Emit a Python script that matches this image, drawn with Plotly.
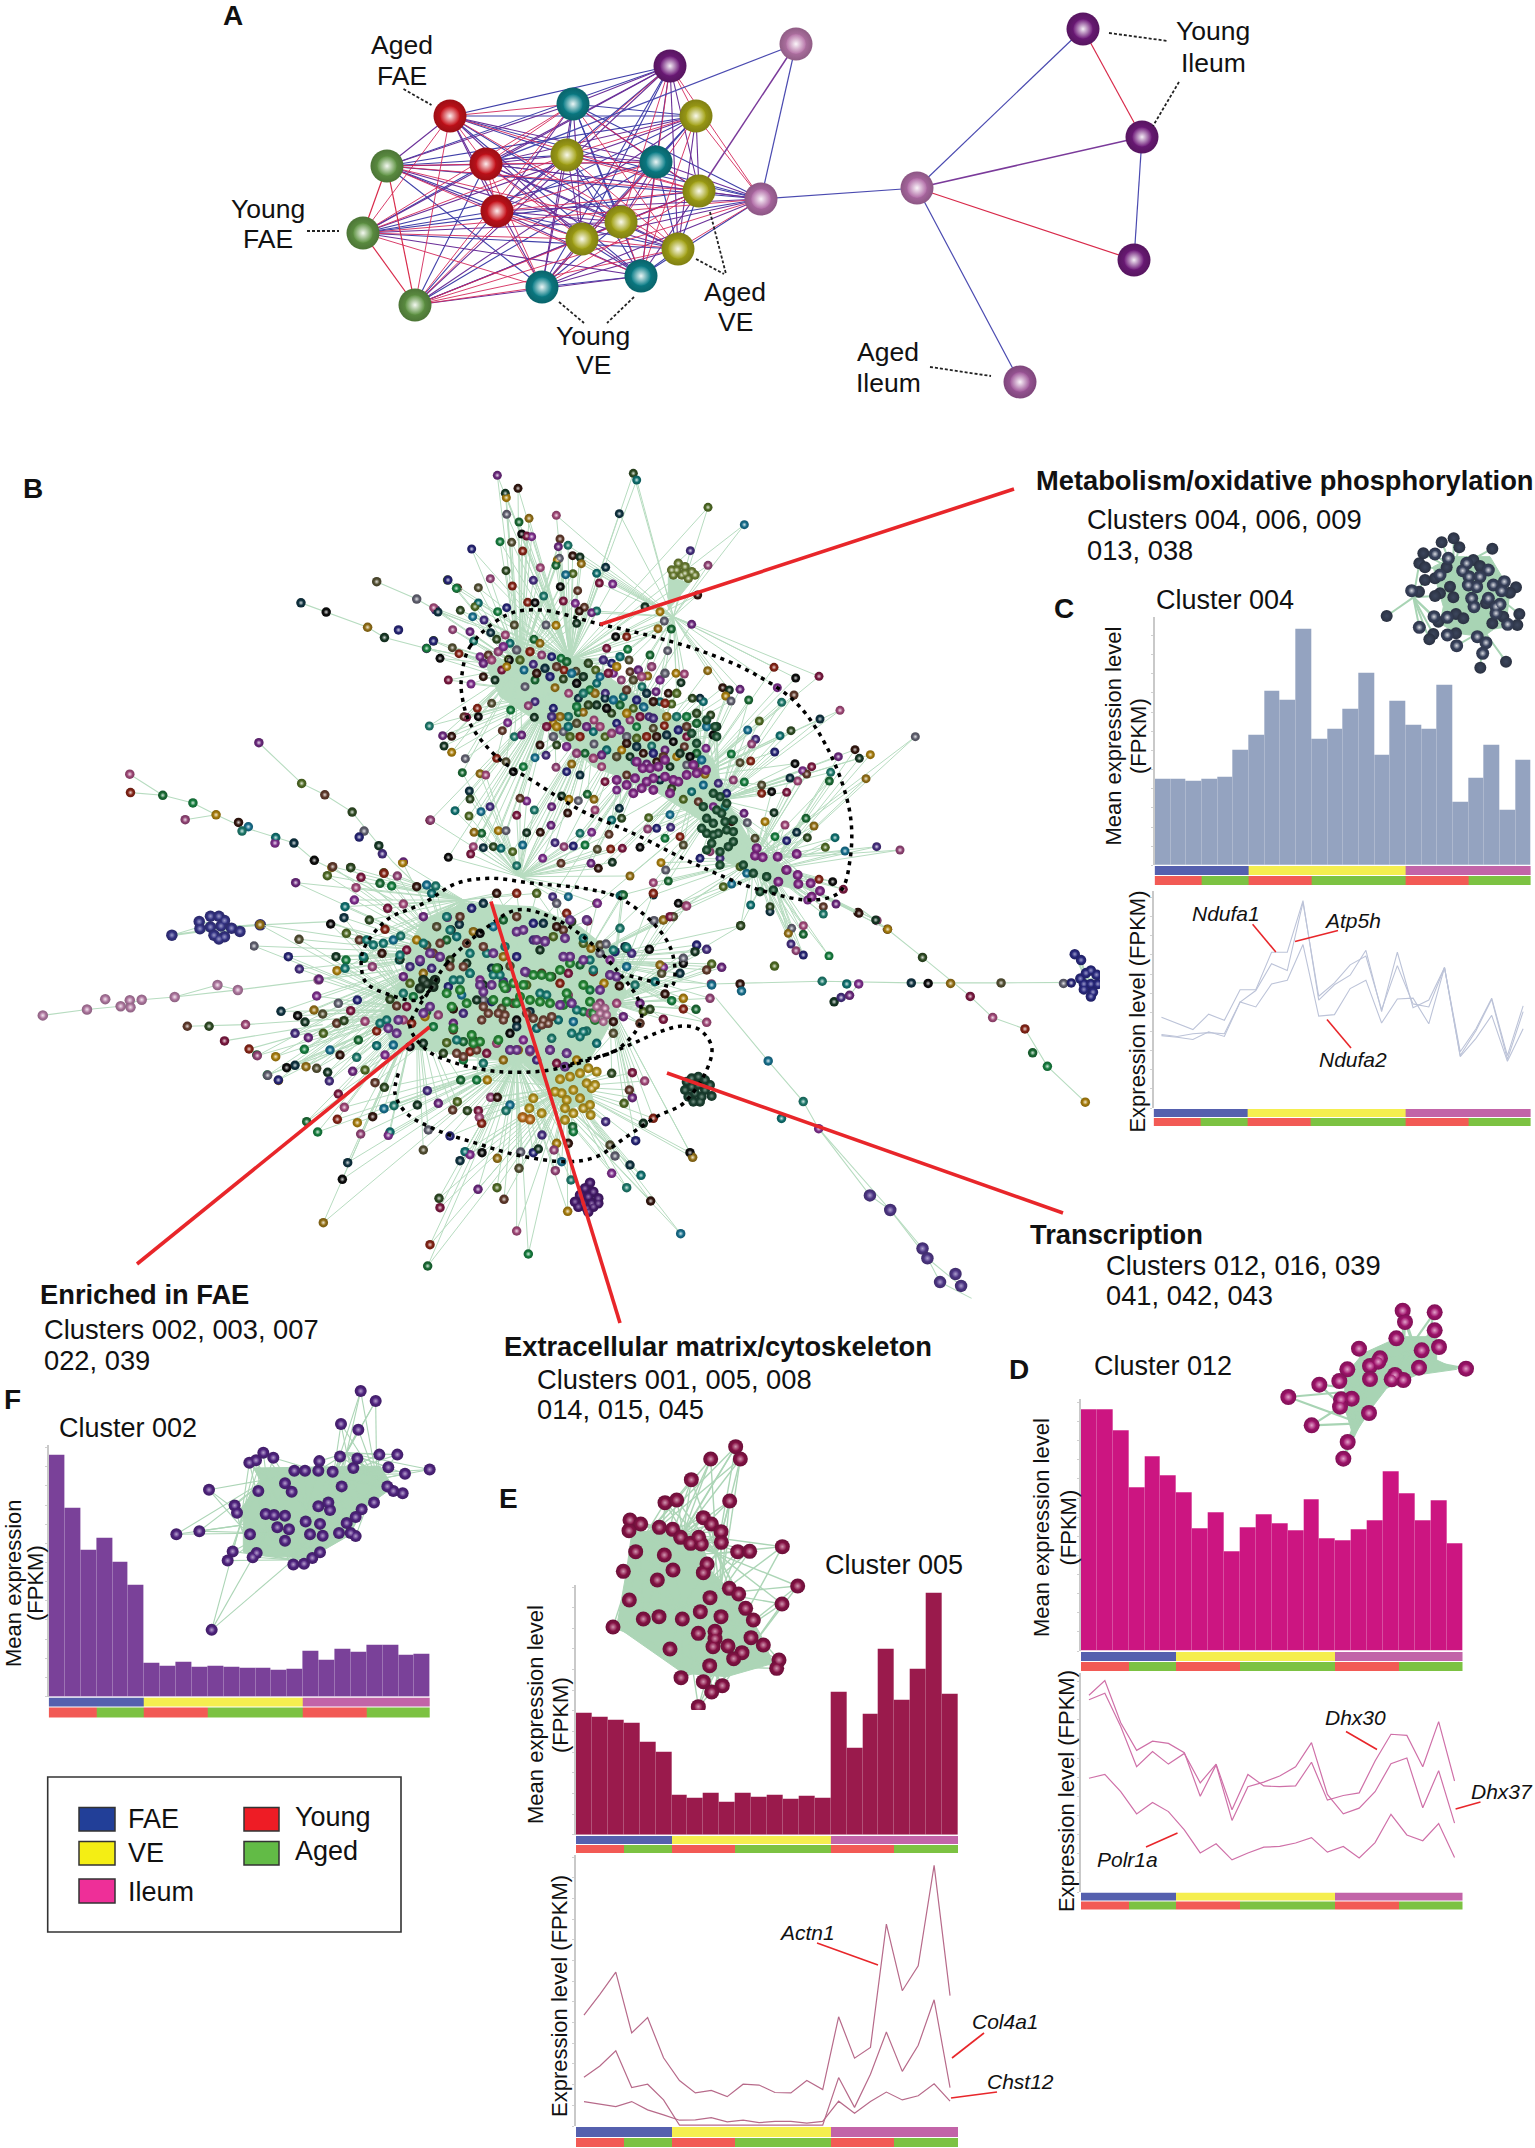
import plotly.graph_objects as go

W, H = 1535, 2148
SAMPLES = list(range(1, 25))
TISSUE = [0]*6 + [1]*10 + [2]*8
AGE = [3]*3 + [4]*3 + [3]*4 + [4]*6 + [3]*4 + [4]*4

BAR_C = [225,225,220,226,231,302,340,454,432,618,331,357,408,502,288,429,367,355,470,166,228,314,145,276]
BAR_D = [630,630,576,427,509,459,414,321,363,261,323,357,332,316,396,293,290,318,341,470,412,342,393,280]
BAR_E = [295,285,278,270,225,200,97,90,102,79,102,92,95,87,93,90,345,209,292,449,327,402,585,342]
BAR_F = [630,492,384,415,351,290,87,79,89,76,79,77,75,74,69,71,118,96,123,117,134,134,109,111]

ATP5H = [237,220,205,245,229,309,309,407,407,542,282,322,347,412,252,407,262,282,367,147,207,287,137,267]
NDUFA1 = [192,187,194,197,194,277,307,377,359,537,292,327,374,397,257,372,272,264,367,137,202,284,127,252]
NDUFA2 = [189,185,179,199,187,277,264,324,334,427,240,244,312,334,222,285,287,220,367,134,182,242,122,207]
DHX30 = [502,519,432,327,367,334,362,285,334,215,307,277,275,277,339,240,252,259,342,412,409,327,445,290]
DHX37 = [514,552,442,370,394,388,364,250,332,187,275,287,303,327,390,255,204,219,262,335,350,220,317,180]
POLR1A = [297,307,262,204,234,210,162,102,126,84,102,117,119,128,142,104,119,89,129,203,149,134,179,90]
ACTN1 = [268,318,372,225,262,165,110,80,86,71,101,99,81,80,110,88,264,164,190,488,327,387,630,315]
COL4A1 = [118,145,182,93,101,63,2,2,2,2,2,2,2,2,2,2,117,45,125,227,132,195,305,93]
CHST12 = [59,53,47,59,39,27,14,15,20,10,14,8,11,11,7,11,60,31,59,82,63,73,102,60]

# Panel A network
A_NODES = {
 'p1':(670,66,'#7d1f8a'),'q1':(796,44,'#cf86bf'),'r1':(450,116,'#e0141e'),'t1':(573,104,'#0e8f9a'),
 'y1':(696,116,'#b8b81a'),'g1':(387,166,'#6da84e'),'r2':(486,164,'#e0141e'),'y2':(567,155,'#b8b81a'),
 't2':(656,162,'#0e8f9a'),'y3':(699,191,'#b8b81a'),'q2':(761,199,'#c87bbd'),'r3':(497,211,'#e0141e'),
 'g2':(363,233,'#6da84e'),'y4':(621,222,'#b8b81a'),'y5':(582,239,'#b8b81a'),'y6':(678,249,'#b8b81a'),
 't3':(641,276,'#0e8f9a'),'t4':(542,287,'#0e8f9a'),'g3':(415,305,'#6da84e'),'q3':(917,188,'#c87bbd'),
 'q4':(1020,382,'#b565b0'),'p2':(1083,29,'#7d1f8a'),'p3':(1142,137,'#7d1f8a'),'p4':(1134,260,'#7d1f8a'),
}
A_CORE = ['p1','r1','t1','y1','g1','r2','y2','t2','y3','q2','r3','g2','y4','y5','y6','t3','t4','g3']
A_BLUE_EXTRA = [('q1','q2'),('q1','r2'),('q2','q3'),('q3','p2'),('q3','q4'),('p3','p4')]
A_RED_EXTRA = [('q3','p4'),('p2','p3'),('g1','g2'),('g2','g3'),('g1','g3')]
A_PURPLE_EXTRA = [('q3','p3'),('q1','y3')]

# Panel B network, lower-resolution outer frame
Z6_NODES = [(369,540),(430,615),(463,636),(502,668),(613,683),(185,598),(186,632),(232,637),(275,651),(308,673),(264,682),(340,687),(354,695),(345,703),(393,715),(392,725),(419,725),(448,757),(473,770),(500,770),(519,703),(512,714),(540,730),(545,745),(575,760),(547,780),
(267,1063),(298,1063),(320,1090),(350,1060),(355,1105),(366,1116),(381,1153),(397,1163),
(1014,985),(1055,985),(1057,998),(1172,980),(1207,985),(1224,985),(1299,983),(1323,984),(1355,984),(1427,983),(1516,984),(1527,983),(1189,1018),(1199,1010),(1211,1006),(1104,952),
(1265,884),(1315,936),(1383,1008),(1415,1047),(1461,1068),(1472,1112),(1493,1137),(1547,1203),(1250,868),(1223,853),
(1095,1127),(1145,1202),(1114,1233),(1167,1252),(429,282),(465,299),(524,327),(537,243),(594,275),(568,332),(548,346),(621,295),(608,366),(638,240),(652,255),(618,352)]
Z6_PURPLE = [(1240,1375),(1269,1402),(1315,1473),(1322,1491),(1340,1535),(1362,1520),(1370,1542)]
Z6_BLUE_L = [(245,895),(284,870),(285,883),(300,860),(312,860),(320,868),(300,880),(315,878),(330,882),(305,895),(320,898),(342,888),(371,876),(312,902)]
Z6_BLUE_R = [(1540,975),(1548,965),(1555,960),(1563,968),(1545,985),(1555,985),(1565,985),(1545,995),(1558,1000),(1555,1008),(1532,930),(1541,941)]
Z6_PINK = [(61,1043),(124,1032),(150,1013),(172,1026),(185,1015),(186,1028),(202,1014),(249,1009),(310,987),(339,996),(454,977)]
Z6_CHAINS = [
 [(61,1043),(124,1032),(172,1026),(202,1014),(249,1009),(339,996),(454,977),(560,960)],
 [(249,1009),(310,987),(339,996)],
 [(900,975),(1014,985),(1172,980),(1299,983),(1427,983),(1540,982)],
 [(1230,850),(1265,884),(1315,936),(1383,1008),(1415,1047),(1461,1068),(1493,1137),(1547,1203)],
 [(1020,1010),(1095,1127),(1145,1202),(1167,1252),(1240,1375),(1269,1402),(1315,1473),(1340,1535),(1385,1565)],
 [(1167,1252),(1269,1402),(1322,1491),(1370,1542)],
 [(429,282),(465,299),(524,327),(548,346),(608,366),(660,380)],
 [(537,243),(594,275),(621,295),(668,320)],
 [(369,540),(430,615),(463,636),(502,668),(560,760),(600,810)],
 [(185,598),(232,637),(275,651),(308,673),(345,695),(393,715),(419,725),(448,757),(500,790),(560,830)],
 [(186,632),(232,637)],[(264,682),(308,673)],
 [(245,895),(284,880),(371,876),(470,870),(530,900)],
 [(1532,930),(1541,941),(1550,980)],
 [(267,1063),(350,1060),(460,1050)],[(320,1090),(460,1060)],[(355,1105),(480,1060)],[(381,1153),(520,1090)],
 [(1189,1018),(1211,1006),(1224,985)],
]
# Upper blob
Z10_NODES = [(232,46),(294,85),(256,100),(259,113),(260,163),(297,186),(327,175),(409,166),(598,161),(640,40),(650,60),(864,142),(973,194),(811,272),(864,316),(155,267),(240,245),(275,247),(308,273),(305,222),(320,228),(335,230),(420,237),(444,256),(415,260),(458,287),(480,291),(412,300),(418,295),(408,316),(484,311),(361,323),(557,322),(258,332),(530,340),(459,341),(437,344),(340,361),(211,356),(84,360),(109,385),(175,383),(277,378),(421,380),(538,369),(578,372),(473,392),(371,408),(815,493),(833,405),(675,440),(720,455),(733,483),(754,507),(714,506),
(41,443),(54,456),(121,451),(175,429),(165,440),(158,470),(192,480),(98,509),(40,543),(20,565),(97,563),(117,581),(60,595),(85,660),(153,672),(132,770),(28,798),(68,827),(95,829),(72,858),(95,877),(136,896),(127,938),(180,941),(197,945),(148,993),(150,1017),(105,1052),(147,1068),(183,1055),(210,1040),(32,1080),
(260,443),(233,455),(283,495),(323,427),(345,428),(430,423),(466,430),(493,442),(530,453),(515,458),(478,453),(470,490),(408,496),(378,495),(342,538),(360,550),(256,525),(212,518),(230,538),(270,550),(265,598),(312,630),(340,613),(365,585),(395,590),(423,595),(468,634),(432,630),(268,600),(245,630),(180,590),(205,585),(161,543),(150,515),(190,650),(225,660),(260,620),(315,680),(345,660),(405,683),(446,700),(475,715),(430,657),(530,670),(527,630),(540,650),(556,700),(604,660),(575,610),(623,568),(627,600),(620,530),(587,530),(560,565),(580,640),(630,635),(666,680),(708,695),(745,700),(783,668),(768,640),(743,572),(690,585),(683,648),(793,642),(840,715),(817,715),(720,725),(755,732),(670,740),
(345,725),(325,737),(400,745),(272,750),(215,730),(172,745),(175,770),(140,772),(263,788),(247,812),(283,830),(305,825),(360,855),(343,772),(400,790),(430,815),(475,758),(490,757),(522,780),(555,715),(575,760),(610,710),(640,745),(672,742),(687,770),(630,780),(590,790),(650,800),(700,805),(733,797),(760,845),(800,830),(858,865),(793,860),(695,858),(735,870),(670,880),(630,890),(605,870),(522,852),(495,880),(455,912),(545,920),(480,945),(410,855),(520,815),(555,830),(345,893),(378,886),(408,922),(440,935),(310,920),(258,905),(230,895),(280,935),
(555,965),(590,990),(620,945),(645,905),(680,912),(710,905),(750,920),(770,890),(800,915),(825,915),(855,943),(835,935),(720,960),(755,985),(815,995),(790,1018),(850,975),(895,970),(940,960),(920,1000),(973,966),(1025,975),(1025,1000),(1055,995),(1100,997),(880,1040),(835,1025),(915,1040),(972,1060),(935,1085),(1062,1058),(1035,1085),(982,1088),(1158,1075),(1182,1098),(1095,1095),(1130,1117),(1162,1133),(1245,1133),(1216,1162),(1275,1173),(1370,1160),(1440,1170),(1100,1142),(1065,1130),(1005,1135),
(1062,622),(1127,654),(1197,649),(1072,683),(1122,705),(1085,727),(960,688),(908,683),(928,690),(917,708),(933,723),(986,720),(863,632),(1260,751),(1200,777),(1113,812),(1080,827),(1018,783),(983,810),(1007,838),(995,852),(1064,876),(934,882),(960,908),(992,903),(1125,911),(1175,920),(1148,932),(1160,942),(1232,937),(1255,890),(1305,869),(1318,895),(1351,884),(1486,830),(1228,963),(1338,956),(1133,963),(1110,954),(872,765),(850,725),
(960,1220),(980,1240),(900,1195),(870,1175),(840,1195),(1040,1250),(1097,1230),(1197,1258),(1238,1265),(1270,1288),(1163,1320),(1210,1340),(1210,1362),(1248,1332),(1317,1360),(1367,1380),(1403,1408),(1115,1405),(1150,1423),(1105,1420),(1150,1397),(1050,1355),(1050,1340),(992,1335),(910,1280),(935,1272),(1113,1452),(1128,1472),(1150,1485),(1227,1488),(962,1397),(797,1338),(775,1330),
(290,1066),(320,1023),(300,1015),(343,1050),(395,1040),(443,1059),(425,1008),(447,1018),(475,1022),(502,1003),(522,1018),(525,1050),(598,1045),(605,1075),(575,1080),(686,1073),(750,1064),(752,1102),(683,1107),(710,1105),(735,1135),(790,1155),(780,1130),(660,1162),(607,1165),(515,1117),(567,1123),(480,1120),(393,1096),(361,1117),(320,1118),(235,1112),(258,1112),(185,1120),(162,1117),(160,1160),(190,1163),(220,1160),(243,1165),(278,1175),(308,1155),(405,1148),(432,1160),(460,1158),(495,1155),(532,1168),(572,1167),(85,1192),(152,1182),(368,1195),(423,1210),(290,1217),(513,1210),(535,1225),(577,1207),(723,1208),(737,1230),(745,1263),(630,1248),(700,1268),(700,1305),(730,1380),(600,1307),(530,1330),(445,1310),(398,1310)]
Z10_CORE = [(190,610),(215,600),(235,575),(250,560),(290,570),(300,600),(330,575),(350,640),(375,625),(390,650),(410,620),(440,605),(455,640),(470,670),(490,650),(505,610),(510,690),(490,700),(525,700),(550,600),(565,640),(590,620),(600,590),(640,660),(655,630),(665,650),(695,620),(720,660),(735,640),(770,700),(735,730),(700,725),(680,700),(650,720),(620,690),(600,735),(580,720),(560,745),(530,735),(505,735),(470,740),(445,770),(420,770),(395,770),(380,800),(410,800),(445,800),(470,790),(500,800),(540,800),(575,820),(600,810),(620,830),(650,835),(680,830),(710,830),(740,825),(775,810),(800,800),(830,790),(860,800),(880,825),(890,800),(830,760),(800,770),(770,770),(740,770),(700,775),(660,770),(620,760),(560,870),(590,890),(545,885),(520,895),(470,880),(440,860),(400,830),(450,830),(480,830),(620,850),(650,860),(700,880),(730,890),(830,880),(845,900),(810,890),(780,880)]
Z10_MAGENTA = [(650,905),(668,925),(690,925),(715,920),(735,900),(700,955),(680,965),(645,955),(620,975),(590,960),(640,1000),(665,985),(700,990),(735,950),(760,960),(750,1000),(775,965),(820,915),(830,940),(858,930),(800,945),(1005,1187),(1028,1192),(1073,1190),(1130,1182),(1100,1230),(1075,1265),(1133,1245),(1135,1272),(1172,1270),(1200,1293),(1175,1310),(1010,1165)]
Z10_DKGREEN = [(880,1000),(900,1010),(920,1030),(850,1040),(890,1050),(860,1075),(880,1090),(915,1085),(920,1110),(940,1115),(895,1120),(860,1120),(875,1150),(900,1175),(925,1160),(940,1145),(860,1170),(900,1215),(970,1215),(1000,1240),(1040,1250),(1060,1290),(1020,1295),(940,1080),(880,1125),(845,1105),(905,1060),(815,820),(860,780),(885,800),(890,830),(830,850)]
Z10_OLIVE = [(755,330),(775,310),(795,320),(815,335),(760,345),(785,345),(805,355),(825,345),(770,330),(795,340)]
Z10_HUBS = [(300,620),(530,760),(700,850),(900,1020),(1000,1200),(450,600),(300,1250),(760,470),(400,700),(620,800),(830,950),(1050,1230)]
Z10_HAZE = [(200,620),(300,590),(470,590),(610,680),(760,770),(880,900),(925,1030),(990,1140),(1110,1240),(1140,1290),(1050,1270),(890,1190),(840,1080),(700,990),(520,920),(390,810),(240,710),(200,620)]
Z10_OLIVE_HAZE = [(745,350),(810,370),(745,450),(745,350)]
# Lower blob
Z11_NODES = [(137,68),(232,47),(248,20),(302,23),(333,52),(318,83),(402,40),(390,70),(425,78),(458,8),(442,48),(500,80),(530,75),(557,78),(285,140),(313,120),(282,173),(242,192),(30,194),(147,238),(12,258),(115,290),(258,290),(148,327),(207,358),(289,220),(328,240),(358,180),(413,145),(460,132),(405,208),(342,295),(288,300),(261,332),(367,320),(396,280),(430,240),(452,228),(448,300),(200,408),(93,454),(143,467),(192,450),(218,462),(265,430),(322,420),(165,486),(135,520),(175,533),(220,520),(260,490),(282,482),(302,452),(345,484),(380,513),(325,540),(163,568),(77,590),(22,587),(270,585),(240,570),(320,592),(380,557),(405,585),(135,616),(110,623),(168,620),(200,625),(53,646),(85,660),(233,637),(238,663),(308,634),(345,630),(375,668),(403,682),(265,702),(283,742),(262,778),(170,785),(203,816),(322,788),(332,822),(368,770),(402,746),(432,737),(420,816),(415,826),(293,908),(277,958),(220,1088),
(520,870),(535,810),(600,828),(502,735),(532,692),(565,730),(622,725),(608,750),(652,752),(685,752),(688,772),(695,790),(632,660),(680,660),(712,660),(722,712),(742,712),(780,735),(768,752),(645,875),(660,884),(630,902),(696,878),(742,895),(807,925),(812,876),(850,878),(865,867),(876,825),(684,988),(741,983),(762,1018),(567,1015),(570,1043),(800,1113),(540,1154),(533,1218),(835,1182),(953,1054),(916,932),(1202,1023),(1292,1121),(1130,983),(1173,946),(1085,940),(1140,915),(1320,878),(1328,892),(1080,855),(1095,888),(1157,842),(1180,790),(1067,785),(1147,713),(1122,730),(1138,690),(1085,640),(1147,638),(1184,663),(1210,775),(968,800),(970,815),(920,850),(912,870),(955,850),(935,905),(963,960),
(545,100),(592,172),(628,193),(603,210),(670,215),(530,256),(570,292),(510,305),(450,298),(545,325),(460,350),(480,370),(440,438),(420,418),(470,440),(460,480),(485,490),(530,455),(550,500),(525,470),(565,465),(610,447),(635,405),(630,360),(660,340),(690,360),(725,325),(745,325),(760,290),(780,318),(830,338),(800,290),(870,270),(850,240),(885,242),(910,230),(940,210),(965,185),(1013,183),(960,290),(1030,335),(990,315),(1020,390),(1062,370),(1080,345),(1108,378),(1130,320),(1110,205),(1115,105),(1042,130),(1125,260),(1198,268),(1240,180),(1270,170),(1212,182),
(595,380),(700,375),(760,365),(770,385),(830,375),(875,340),(905,350),(955,340),(955,405),(930,370),(965,430),(1000,455),(1030,470),(1020,460),(1090,485),(970,485),(1010,513),(925,480),(885,490),(840,455),(800,480),(760,465),(755,445),(700,420),(725,425),(680,420),(640,460),(610,490),(590,548),(610,510),(670,540),(710,580),(740,550),(660,575),(640,545),(780,570),(805,570),(840,575),(900,570),(950,580),(905,535),(860,505),(820,540),(800,500),(780,520),
(1023,265),(1050,255),(1068,252),(1095,275),(1130,265),(1145,280),(1170,430),(1180,455),(1170,490),(1200,448),(1240,478),(1370,487),(1300,447),(1338,448),(1265,422),(1300,415),(1380,415),(1245,402),(1385,375),(1155,375),(1215,365),(1240,322),(1290,340),(1300,310),(1230,315),(1235,340),(1300,295),(1340,255),(1335,275),(1370,268),(1415,322),(1385,312),(1370,330),(1472,197),(1260,170),(1310,138),(1210,100),(1120,105)]
Z11_GREEN = [(760,375),(790,370),(820,375),(850,345),(875,345),(900,350),(950,400),(955,420),(940,435),(765,385),(730,420),(770,425),(810,410),(840,420),(870,425),(900,430),(930,330),(960,310),(1030,460),(1035,480),(690,545),(670,550),(610,505),(590,400),(630,390),(605,440),(650,430),(740,325),(800,430),(1000,375),(1020,425),(745,540),(665,525)]
Z11_BROWN = [(700,440),(715,460),(695,480),(745,460),(765,465),(760,480),(830,460),(850,475),(880,480),(895,490),(875,495),(905,470),(680,570),(620,580),(640,590),(790,430),(640,320),(600,320),(570,250),(550,280),(650,250),(700,260)]
Z11_MAUVE = [(730,280),(800,215),(820,210),(860,240),(885,245),(945,235),(960,290),(1010,180),(960,180),(825,335),(940,290),(1000,300),(1080,345),(1100,350),(690,375),(700,395),(725,375),(540,280),(570,290),(510,300),(520,460),(540,440),(445,480),(415,505),(440,520),(1050,390),(930,435),(965,430),(840,570),(800,570),(780,570),(900,570),(950,580),(945,620)]
Z11_TEAL = [(590,170),(600,210),(660,280),(710,280),(765,260),(870,400),(890,405),(730,345),(750,345),(660,340),(610,360),(1030,330),(1130,262),(1090,270),(520,250),(450,285),(400,250),(350,240),(370,255),(340,290),(285,325),(410,480),(390,490),(1000,235),(1020,300),(620,540),(980,450),(990,530),(965,520),(1000,515)]
Z11_MIX = [(520,170),(560,200),(620,230),(500,240),(470,270),(480,320),(520,340),(460,400),(490,410),(600,300),(650,310),(690,220),(730,200),(760,180),(800,170),(850,190),(880,190),(920,200),(950,160),(1000,250),(1050,280),(1080,300),(1050,430),(1100,430),(1120,470),(1090,520),(1040,550),(980,600),(920,610),(860,600),(760,600),(700,610),(640,600),(580,580),(520,550),(480,560),(430,555),(590,240),(630,170),(665,145),(700,130),(740,100),(800,100),(860,100),(920,130)]
Z11_GOLD = [(930,658),(960,650),(990,640),(1015,625),(1010,670),(970,690),(935,700),(915,695),(950,720),(990,715),(1000,745),(970,760),(945,745),(945,780),(1025,685),(1035,675),(1040,635),(850,715),(838,745),(875,760),(1020,735),(1022,765)]
Z11_ORANGE = [(818,772),(840,778)]
Z11_DKGREEN = [(1310,665),(1325,655),(1345,650),(1365,660),(1380,675),(1305,690),(1325,680),(1345,675),(1365,690),(1385,708),(1315,710),(1335,700),(1355,710),(1330,725),(1350,725)]
Z11_PURPLE = [(1020,968),(1005,985),(1030,995),(990,1005),(1015,1010),(1045,1015),(975,1025),(1000,1030),(1025,1030),(1045,1030),(985,1040),(1010,1045),(1030,1040),(1015,1055)]
Z11_PINK = [(1040,440),(1065,445),(1050,460),(1070,465),(1035,475),(1060,485)]
Z11_DARK = [(520,360),(550,380),(510,385),(530,370),(555,360)]
Z11_HUBS = [(640,120),(700,400),(950,400),(500,450),(1000,300),(800,600),(950,680),(820,250),(600,280),(1080,430)]
Z11_HAZE = [(520,180),(640,130),(850,140),(990,200),(1090,280),(1130,400),(1060,530),(1000,630),(1030,720),(950,750),(820,610),(600,580),(430,560),(390,470),(460,350),(480,250),(520,180)]

# Cluster insets
C_LIT = [(225,132),(265,145),(320,160),(308,182),(385,180),(240,195),(327,200),(360,200),(325,225),(350,230),(400,225),(433,215),(425,242),(155,242),(335,265),(385,265),(408,290),(420,283),(342,290),(408,310),(222,320),(262,322),(443,343),(178,352),(262,375),(352,380),(290,407),(378,398),(368,430)]
C_DARK = [(245,97),(281,85),(298,112),(397,116),(190,130),(178,160),(195,172),(260,172),(340,150),(360,168),(195,210),(225,205),(270,230),(240,250),(280,262),(225,258),(177,245),(468,232),(450,248),(378,280),(80,318),(288,312),(310,325),(235,335),(478,312),(430,320),(472,345),(397,340),(220,372),(208,388),(288,370),(438,455),(361,473)]
C_HUBS = [(330,270),(160,262),(370,360),(280,180),(400,250)]
C_HAZE = [(220,170),(280,140),(390,140),(450,240),(440,330),(370,380),(290,370),(240,340),(250,290),(230,220),(220,170)]
D_NET = [(428,62),(435,96),(524,67),(524,121),(537,171),(409,145),(297,176),(485,181),(618,236),(477,233),(360,205),(330,228),(262,238),(238,273),(178,284),(85,321),(330,267),(405,255),(430,270),(395,268),(275,326),(243,328),(240,350),(155,406),(327,369),(263,456),(250,506),(355,215)]
D_HUBS = [(430,200),(320,300),(300,400),(480,220),(370,250)]
D_HAZE = [(310,190),(420,140),(530,140),(530,210),(590,238),(470,255),(380,295),(330,360),(280,440),(250,340),(260,250),(310,190)]
E_NET = [(527,80),(541,117),(452,117),(394,179),(509,243),(315,248),(350,240),(430,293),(454,312),(483,335),(210,300),(242,312),(207,332),(484,367),(298,322),(338,328),(362,352),(392,370),(424,372),(416,352),(533,395),(569,394),(667,380),(713,498),(666,552),(227,395),(190,454),(313,405),(339,450),(292,480),(441,432),(430,458),(508,505),(536,522),(450,533),(557,565),(580,600),(208,540),(159,621),(367,597),(421,575),(483,590),(465,634),(465,656),(504,678),(459,680),(415,640),(573,653),(610,675),(330,687),(546,698),(521,716),(449,737),(657,720),(650,745),(363,773),(430,785),(487,797),(455,816),(415,860),(250,597),(297,590)]
E_HUBS = [(370,340),(470,400),(520,650),(370,560),(300,450),(450,740),(240,370),(560,700),(480,520)]
E_HAZE = [(215,340),(330,325),(430,370),(440,440),(540,540),(600,640),(640,730),(500,770),(370,760),(170,620),(200,450),(215,340)]
F_NET = [(1082,29),(1127,55),(1023,115),(1075,130),(1138,195),(1192,195),(1289,234),(1215,245),(1208,296),(1180,290),(1162,278),(1165,228),(748,216),(768,210),(790,190),(820,203),(627,287),(598,395),(529,403),(635,653),(704,328),(711,347),(797,350),(822,353),(855,355),(855,270),(883,237),(915,237),(955,237),(998,240),(1060,230),(1020,200),(1072,205),(958,212),(1025,278),(775,290),(875,292),(1085,338),(1067,358),(1040,374),(990,340),(955,330),(985,320),(832,385),(867,390),(917,370),(960,376),(750,403),(855,420),(930,403),(968,407),(1017,400),(1052,400),(1067,408),(698,448),(683,472),(770,452),(758,463),(880,482),(912,480),(937,465),(960,450),(1122,320)]
F_HUBS = [(920,340),(1000,250),(800,400),(800,260),(1130,260),(720,380),(880,470),(1040,190)]
F_HAZE = [(760,230),(1140,225),(1180,280),(1100,330),(1040,410),(930,465),(800,460),(730,450),(730,330),(780,260),(760,230)]

PALETTE = ['#7a2f8f','#1e7a3c','#12807f','#2c2a86','#8c1d4a','#3a1a12','#a8801a','#5a7a2a','#1a9048','#8f36a0','#1a3f2a','#b8548a','#1b7fa0','#5f5a3a','#6e4232','#c09010','#123a4a','#4f3590','#982a1a','#228a7a','#6f6f80','#355528','#a84f88','#0f0f0f']
STRIP = [[0,'#5560ae'],[.2,'#5560ae'],[.2,'#f5ee4f'],[.4,'#f5ee4f'],[.4,'#c264a8'],[.6,'#c264a8'],[.6,'#f25a55'],[.8,'#f25a55'],[.8,'#7cc242'],[1,'#7cc242']]
EDGE = '#b7dcc0'
FONT = 'Liberation Sans'

def mix(c, f=0.7, t=(255,255,255)):
    r, g, b = int(c[1:3],16), int(c[3:5],16), int(c[5:7],16)
    return '#%02x%02x%02x' % (int(r+(t[0]-r)*f), int(g+(t[1]-g)*f), int(b+(t[2]-b)*f))

fig = go.Figure()
layout = {}
count = [0]
def axes(x0, x1, y0, y1, xr, yr, visible=False, **yopts):
    count[0] += 1
    n = count[0]
    sx = '' if n == 1 else str(n)
    layout['xaxis'+sx] = dict(domain=[x0/W, x1/W], range=xr, visible=False, anchor='y'+sx, fixedrange=True)
    y = dict(domain=[1-y1/H, 1-y0/H], range=yr, visible=visible, anchor='x'+sx, fixedrange=True, zeroline=False,
             showgrid=False, showticklabels=False)
    if visible:
        y.update(showline=True, linecolor='#c9c9c9', linewidth=1.5, ticks='outside', ticklen=2, tickcolor='#d0d0d0', nticks=20)
    y.update(yopts)
    layout['yaxis'+sx] = y
    return dict(xaxis='x'+sx, yaxis='y'+sx)

def bars(vals, ymax, top, base, x0, x1, color):
    ref = axes(x0, x1, top, base, [0.5, 24.5], [0, ymax], visible=True)
    fig.add_trace(go.Bar(x=SAMPLES, y=vals, width=1, marker=dict(color=color, line=dict(color='rgba(255,255,255,0.07)', width=0.6)), **ref))

def strip(x0, x1, y0, y1):
    ref = axes(x0, x1, y0, y1, [0.5, 24.5], [1.5, -0.5])
    fig.add_trace(go.Heatmap(x=SAMPLES, y=[0, 1], z=[TISSUE, AGE], zmin=0, zmax=4, colorscale=STRIP, showscale=False, ygap=1, **ref))

def lines(series, top, base, x0, x1, yr, color, width=1.2):
    ref = axes(x0, x1, top, base, [0.5, 24.5], [0, yr], visible=True)
    for s in series:
        fig.add_trace(go.Scatter(x=SAMPLES, y=s, mode='lines', line=dict(color=color, width=width), **ref))

def edges(pts, hubs, ref, width=1, color=EDGE, k=1):
    xs, ys = [], []
    for n in pts:
        near = sorted(hubs, key=lambda p: (p[0]-n[0])**2+(p[1]-n[1])**2)[:k]
        for h in near:
            xs += [n[0], h[0], None]; ys += [n[1], h[1], None]
    fig.add_trace(go.Scatter(x=xs, y=ys, mode='lines', line=dict(color=color, width=width), **ref))

def haze(poly, ref, color=EDGE):
    fig.add_trace(go.Scatter(x=[p[0] for p in poly], y=[p[1] for p in poly], mode='lines', fill='toself',
                             fillcolor=color, line=dict(color=color, width=1), **ref))

def nodes(pts, ref, color, size, light=0.8, spot=0.55):
    cols = color if isinstance(color, list) else [color]*len(pts)
    X = [p[0] for p in pts]; Y = [p[1] for p in pts]
    rim = [mix(c, 0.3, (0, 0, 0)) for c in cols]
    fig.add_trace(go.Scatter(x=X, y=Y, mode='markers',
        marker=dict(size=size, color=rim, line=dict(width=0), gradient=dict(type='radial', color=cols)), **ref))
    if light > 0:
        mid = [mix(c, 0.12, (0, 0, 0)) for c in cols]
        fig.add_trace(go.Scatter(x=X, y=Y, mode='markers',
            marker=dict(size=size*spot, color=mid, line=dict(width=0), gradient=dict(type='radial', color=[mix(c, light) for c in cols])), **ref))

def cycle(pts, step=5):
    return [PALETTE[(i*step) % len(PALETTE)] for i in range(len(pts))]

# ---- bars, strips, gene lines
bars(BAR_C, 648, 617, 865.4, 1154.6, 1531, '#94a3c0')
strip(1154.6, 1531, 866, 886)
lines([ATP5H, NDUFA1, NDUFA2], 891, 1108, 1153.6, 1531, 567, '#bcc3d8', 1.1)
strip(1153.6, 1531, 1109, 1126.5)

bars(BAR_D, 660, 1398.6, 1651, 1081, 1462.5, '#cc1581')
strip(1081, 1462.5, 1652, 1672)
lines([DHX30, DHX37, POLR1A], 1673, 1892, 1081, 1462.5, 572, '#cf70a8')
strip(1081, 1462.5, 1892.5, 1910.6)

bars(BAR_E, 605, 1585, 1834.7, 576, 958, '#9a1a4c')
strip(576, 958, 1836, 1854)
lines([ACTN1, COL4A1, CHST12], 1855, 2126, 576, 958, 655, '#b76a8a')
strip(576, 958, 2127, 2148)

bars(BAR_F, 657, 1445, 1696.5, 48.7, 430, '#7a4199')
strip(48.7, 430, 1697.5, 1718)

# ---- panel A
a = axes(0, W, 0, H, [0, W], [H, 0])
def a_lines(pairs, color, width):
    xs, ys = [], []
    for p, q in pairs:
        xs += [A_NODES[p][0], A_NODES[q][0], None]; ys += [A_NODES[p][1], A_NODES[q][1], None]
    fig.add_trace(go.Scatter(x=xs, y=ys, mode='lines', line=dict(color=color, width=width), **a))
pairs = [(p, q) for i, p in enumerate(A_CORE) for q in A_CORE[i+1:] if not (p[0] == 'g' and q[0] == 'g')]
a_lines(pairs[0::3], '#3f3fa8', 1.1)
a_lines(pairs[1::3], '#6a2f98', 1.1)
a_lines(pairs[2::3], '#d4285a', 0.9)
a_lines(A_BLUE_EXTRA, '#4a4ab0', 1.2)
a_lines(A_RED_EXTRA, '#d82a4a', 1.2)
a_lines(A_PURPLE_EXTRA, '#7a3a9a', 1.5)
vals = list(A_NODES.values())
nodes([(v[0], v[1]) for v in vals], a, [v[2] for v in vals], 33, 0.92, 0.6)

# ---- panel B, outer frame then the two blobs
z6 = axes(0, 1100, 450, 1300, [0, 1568], [1568, 0])
for ch in Z6_CHAINS:
    fig.add_trace(go.Scatter(x=[p[0] for p in ch], y=[p[1] for p in ch], mode='lines', line=dict(color=EDGE, width=1.1), **z6))
edges(Z6_BLUE_L, [(330,880)], z6, 2)
edges(Z6_BLUE_R, [(1550,982)], z6, 2)
nodes(Z6_NODES, z6, cycle(Z6_NODES, 7), 9.5)
nodes(Z6_PINK, z6, '#c98ab8', 10.5)
nodes(Z6_PURPLE, z6, '#5a3f9a', 12.5, 0.5)
nodes(Z6_BLUE_L, z6, '#3c3a96', 11.5, 0.5)
nodes(Z6_BLUE_R, z6, '#2f2f90', 10.5, 0.5)

z10 = axes(420, 920, 460, 960, [0, 1500], [1500, 0])
haze(Z10_HAZE, z10)
haze(Z10_OLIVE_HAZE, z10)
edges(Z10_NODES, Z10_HUBS, z10, 1, k=2)
edges(Z10_CORE + Z10_MAGENTA + Z10_DKGREEN, Z10_HUBS, z10, 1, k=3)
nodes(Z10_NODES, z10, cycle(Z10_NODES), 9)
nodes(Z10_CORE, z10, cycle(Z10_CORE, 11), 9.5, 0.6)
nodes(Z10_DKGREEN, z10, '#1f5a38', 9.5, 0.5)
nodes(Z10_MAGENTA, z10, '#8f2f95', 10, 0.6)
nodes(Z10_OLIVE, z10, '#7a8f3a', 9.5)

z11 = axes(250, 750, 860, 1360, [0, 1500], [1500, 0])
haze(Z11_HAZE, z11)
edges(Z11_NODES, Z11_HUBS, z11, 1, k=2)
edges(Z11_MIX + Z11_TEAL + Z11_GREEN, Z11_HUBS, z11, 1, k=3)
edges(Z11_GOLD + Z11_PURPLE + Z11_DKGREEN, [(950,680),(1020,1000),(1340,690)], z11, 2)
nodes(Z11_NODES, z11, cycle(Z11_NODES, 7), 9.5)
nodes(Z11_MIX, z11, cycle(Z11_MIX, 13), 9.5)
nodes(Z11_TEAL, z11, '#1a8a80', 9.5)
nodes(Z11_BROWN, z11, '#7a4a3a', 9.5)
nodes(Z11_GREEN, z11, '#2a9a3c', 10)
nodes(Z11_MAUVE, z11, '#7a3f9f', 10)
nodes(Z11_GOLD, z11, '#c9a520', 10)
nodes(Z11_ORANGE, z11, '#d07a20', 10.5)
nodes(Z11_DKGREEN, z11, '#1f4a38', 10, 0.4)
nodes(Z11_PURPLE, z11, '#4f1f7a', 10.5, 0.4)
nodes(Z11_PINK, z11, '#c77fa8', 9)
nodes(Z11_DARK, z11, '#1f3a28', 10.5, 0.4)

# ---- cluster insets
ic = axes(1360, 1535, 510, 685, [0, 525], [525, 0])
haze(C_HAZE, ic, '#a8d4b4')
edges(C_LIT + C_DARK, C_HUBS, ic, 2, '#a8d4b4')
nodes(C_DARK, ic, '#3d475e', 12, 0)
nodes(C_LIT, ic, '#434e6c', 13, 0.8)

id_ = axes(1260, 1480, 1290, 1480, [0, 660], [570, 0])
haze(D_HAZE, id_, '#a8d4b4')
edges(D_NET, D_HUBS, id_, 2.2, '#a8d4b4', k=2)
nodes(D_NET, id_, '#b8187c', 16, 0.6)

ie = axes(560, 820, 1420, 1710, [0, 780], [870, 0])
haze(E_HAZE, ie, '#acd5b6')
edges(E_NET, E_HUBS, ie, 1.4, '#acd5b6', k=4)
nodes(E_NET, ie, '#9a1650', 15, 0.55)

if_ = axes(0, 500, 1380, 1980, [0, 1500], [1568, 0])
haze(F_HAZE, if_, '#acd5b6')
edges(F_NET, F_HUBS, if_, 1.1, '#acd5b6', k=3)
nodes(F_NET, if_, '#5c2a92', 12, 0.55)

# ---- dotted outlines drawn above the blobs
UPPER = [(125,650),(150,560),(260,465),(360,450),(530,490),(700,530),(850,575),(1000,640),(1130,730),(1230,880),(1290,1060),(1290,1200),(1260,1295),(1180,1320),(1020,1290),(820,1210),(650,1125),(480,1050),(350,970),(230,890),(150,790),(125,700),(125,650)]
OUTER = [(540,390),(500,420),(420,405),(350,370),(335,330),(340,270),(410,180),(520,130),(620,70),(720,55),(850,70),(1000,85),(1100,110),(1200,180),(1260,260),(1275,340),(1265,378),(1220,368),(1130,345)]
INNER = [(540,390),(590,310),(700,210),(800,150),(900,170),(1000,230),(1100,330),(1170,430),(1170,490),(1100,570),(1000,600),(900,630),(750,635),(620,610),(530,570),(480,500),(500,450),(540,390)]
LOOP = [(445,640),(435,700),(470,760),(560,810),(680,850),(800,885),(950,905),(1040,890),(1130,830),(1220,770),(1300,730),(1370,630),(1385,560),(1350,510),(1300,498),(1230,515),(1150,550),(1050,590),(950,620)]
t10 = axes(420, 920, 460, 960, [0, 1500], [1500, 0])
fig.add_trace(go.Scatter(x=[p[0] for p in UPPER], y=[p[1] for p in UPPER], mode='lines',
    line=dict(color='#000', width=3.5, dash='4px,5px', shape='spline'), **t10))
t11 = axes(250, 750, 860, 1360, [0, 1500], [1500, 0])
for path in (OUTER, INNER, LOOP):
    fig.add_trace(go.Scatter(x=[p[0] for p in path], y=[p[1] for p in path], mode='lines',
        line=dict(color='#000', width=3.5, dash='4px,5px', shape='spline'), **t11))

# ---- overlay: text, leaders, legend, in page pixels
ov = axes(0, W, 0, H, [0, W], [H, 0])
ox, oy = ov['xaxis'], ov['yaxis']
shapes, notes = [], []
def seg(x0, y0, x1, y1, color='#e8262a', width=1.6, dash=None):
    shapes.append(dict(type='line', xref=ox, yref=oy, x0=x0, y0=y0, x1=x1, y1=y1, line=dict(color=color, width=width, dash=dash)))
def box(x0, y0, x1, y1, fill):
    shapes.append(dict(type='rect', xref=ox, yref=oy, x0=x0, y0=y0, x1=x1, y1=y1, fillcolor=fill, line=dict(color='#333', width=1.5)))
def txt(s, x, y, size, anchor='center', angle=0):
    if anchor == 'left':
        x -= 2
    notes.append(dict(text=s, x=x, y=y, xref=ox, yref=oy, showarrow=False, xanchor=anchor, yanchor='middle',
                      textangle=angle, font=dict(family=FONT, size=size, color='#111')))

for a0 in [(1014,489,600,624.5),(137,1264,429.5,1027),(620,1323,491,901.5),(1063,1213,667,1073)]:
    seg(*a0, width=3.6)
for a0 in [(403.5,89,431.5,105),(307,231,339,231),(559,302,584,323),(634,297,607,323),(696,259,724,274),(710,212,726,274),(930,367,991,376),(1109,33,1168,41),(1179,82,1153,126)]:
    seg(*a0, color='#222', width=1.8, dash='3px,2px')
for a0 in [(1252.6,924.3,1275.8,952),(1295,941.5,1338,930.5),(1327,1019.6,1351,1048),(1346,1731.5,1377,1749.5),(1455.6,1809,1480.5,1802),(1146,1847,1177.5,1833),(817,1943,878,1965),(952,2058,984,2033),(951,2098,997,2092)]:
    seg(*a0)

for s, x, y in [('Aged',402,45),('FAE',402,76),('Young',268,209),('FAE',268,239),('Young',593,336),('VE',593,365),('Aged',735,292),('VE',735,322),('Aged',888,352),('Ileum',888,383),('Young',1213,31),('Ileum',1213,63)]:
    txt(s, x, y, 26.5)
for s, x, y in [('A',233,15),('B',33,488),('C',1064,608),('D',1019,1369),('E',508,1498),('F',12,1399)]:
    txt('<b>%s</b>' % s, x, y, 28)
for s, x, y in [('Metabolism/oxidative phosphorylation',1036,480),('Transcription',1030,1234),('Enriched in FAE',40,1294),('Extracellular matrix/cytoskeleton',504,1346)]:
    txt('<b>%s</b>' % s, x, y, 27.3, 'left')
for s, x, y in [('Clusters 004, 006, 009',1087,519),('013, 038',1087,550),('Clusters 012, 016, 039',1106,1265),('041, 042, 043',1106,1295),('Clusters 002, 003, 007',44,1329),('022, 039',44,1360),('Clusters 001, 005, 008',537,1379),('014, 015, 045',537,1409)]:
    txt(s, x, y, 27.3, 'left')
for s, x, y in [('Cluster 004',1156,600),('Cluster 012',1094,1366),('Cluster 005',825,1565),('Cluster 002',59,1428)]:
    txt(s, x, y, 27, 'left')
for s, x, y in [('Mean expression level',1112.6,736),('(FPKM)',1138,736),('Expression level (FPKM)',1138,1011.6),('Mean expression level',1041.6,1527.5),('(FPKM)',1068,1527.5),('Expression level (FPKM)',1066.5,1791.6),('Mean expression level',535,1715),('(FPKM)',560,1715),('Expression level (FPKM)',559,1996),('Mean expression',13,1583),('(FPKM)',35,1583)]:
    txt(s, x, y, 22, angle=-90)
for s, x, y in [('Ndufa1',1226,913),('Atp5h',1352.5,920.5),('Ndufa2',1352.5,1059.5),('Dhx30',1355.6,1717),('Dhx37',1502,1791.6),('Polr1a',1127,1859),('Actn1',807,1932.6),('Col4a1',1005,2021),('Chst12',1020,2081)]:
    txt('<i>%s</i>' % s, x, y, 21)

shapes.append(dict(type='rect', xref=ox, yref=oy, x0=47.7, y0=1777, x1=401, y1=1932, line=dict(color='#333', width=1.6)))
box(79,1807.5,115,1831,'#223f98'); box(79,1841.5,115,1865,'#f4ee14'); box(79,1879,115,1903,'#ee2f98')
box(244,1807.5,279,1831,'#ee1c25'); box(244,1841.5,279,1865,'#62bb46')
for s, x, y in [('FAE',128,1819),('VE',128,1853),('Ileum',128,1892),('Young',295,1817),('Aged',295,1851)]:
    txt(s, x, y, 27, 'left')

fig.update_traces(showlegend=False, hoverinfo='skip')
fig.update_layout(width=W, height=H, autosize=False, margin=dict(l=0, r=0, t=0, b=0, pad=0),
                  paper_bgcolor='white', plot_bgcolor='rgba(0,0,0,0)', barmode='overlay', bargap=0,
                  showlegend=False, shapes=shapes, annotations=notes, font=dict(family=FONT), **layout)
fig.write_html("out.html", post_script="document.body.style.margin='0';", config={'displayModeBar': False})
